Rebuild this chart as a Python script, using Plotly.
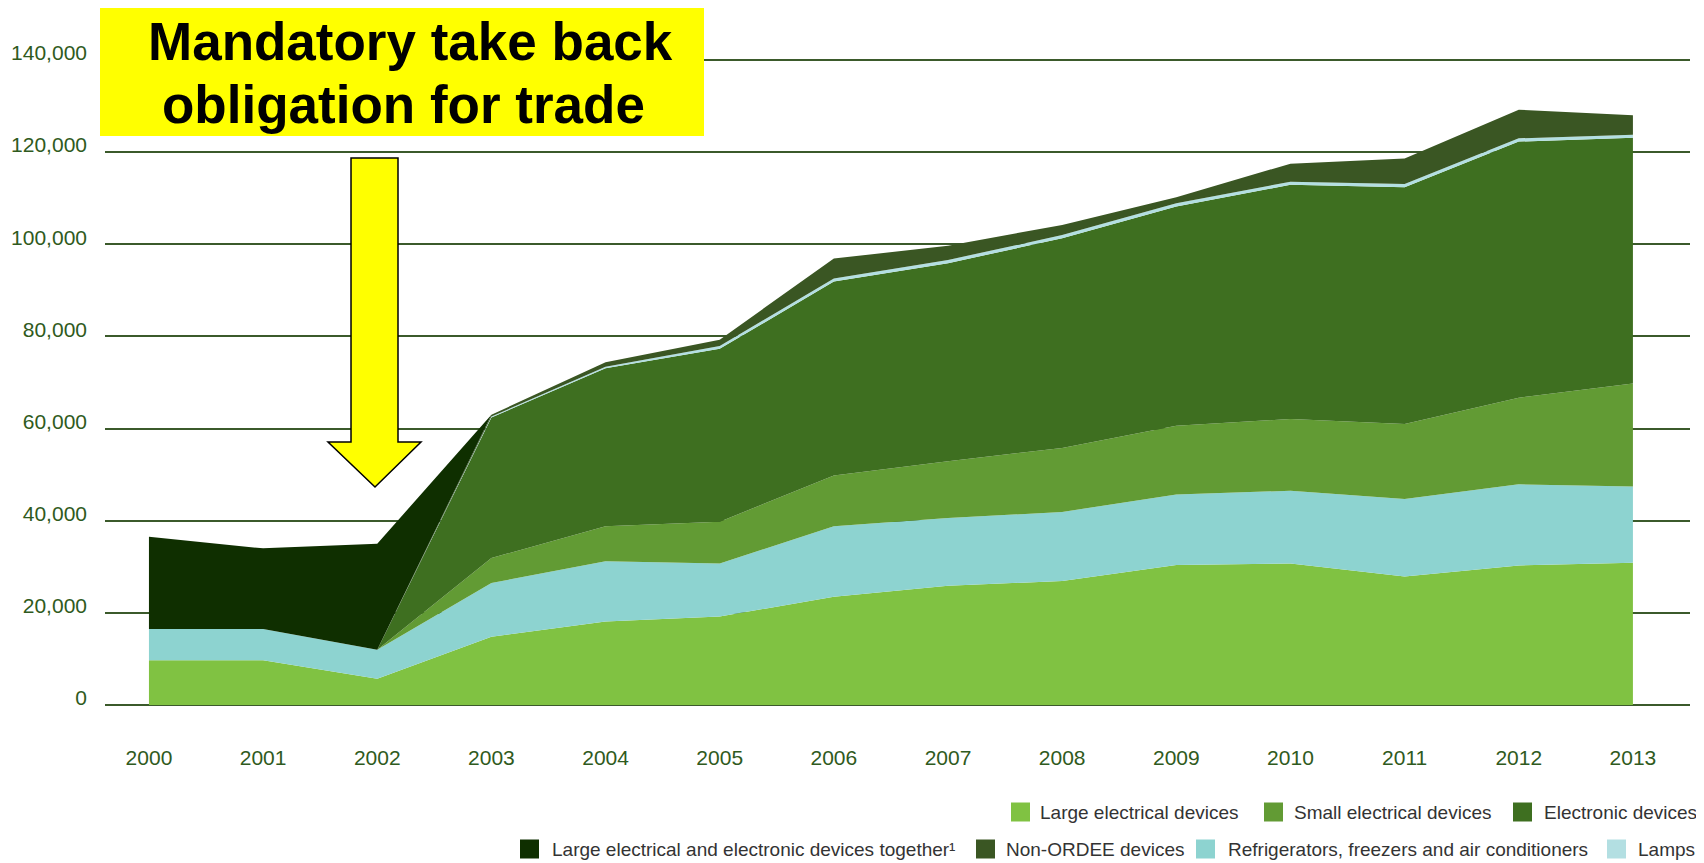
import plotly.graph_objects as go

# ---------------- data ----------------
years = [2000, 2001, 2002, 2003, 2004, 2005, 2006, 2007, 2008, 2009, 2010, 2011, 2012, 2013]
year_labels = [str(y) for y in years]

large_electrical = [9700, 9700, 5700, 14800, 18100, 19200, 23500, 25900, 26900, 30400, 30700, 27900, 30300, 30900]
refrigerators = [6800, 6800, 6300, 11700, 13100, 11500, 15300, 14700, 15000, 15300, 15800, 16800, 17600, 16500]
small_electrical = [0, 0, 0, 5400, 7600, 9100, 11000, 12300, 13900, 14900, 15600, 16300, 18800, 22400]
electronic = [0, 0, 0, 30500, 34300, 37500, 42100, 43000, 45500, 47600, 50800, 51400, 55600, 53300]
lamps = [0, 0, 0, 200, 300, 600, 700, 700, 700, 700, 700, 700, 700, 700]
non_ordee = [0, 0, 0, 400, 1000, 1400, 4300, 3100, 2200, 1300, 3900, 5500, 6200, 4200]
together = [20000, 17500, 23000, 0, 0, 0, 0, 0, 0, 0, 0, 0, 0, 0]

y_ticks = [0, 20000, 40000, 60000, 80000, 100000, 120000, 140000]

names = {
    "large": "Large electrical devices",
    "small": "Small electrical devices",
    "electronic": "Electronic devices",
    "together": "Large electrical and electronic devices together¹",
    "nonordee": "Non-ORDEE devices",
    "fridge": "Refrigerators, freezers and air conditioners",
    "lamps": "Lamps",
}
colors = {
    "large": "#80c242",
    "fridge": "#8dd3d0",
    "small": "#629b34",
    "electronic": "#3e6f20",
    "lamps": "#b3dfe2",
    "nonordee": "#3a5623",
    "together": "#0f2f00",
}

# stacking order bottom -> top
stack = [
    ("large", large_electrical),
    ("fridge", refrigerators),
    ("small", small_electrical),
    ("electronic", electronic),
    ("lamps", lamps),
    ("nonordee", non_ordee),
    ("together", together),
]

# ---------------- layout geometry ----------------
OFF = 8                      # default page body margin
W, H = 1704 - OFF, 863 - OFF
L, R, T, B = 97, 14, 50, 158
PW, PH = W - L - R, H - T - B
Y_TOP = 140000 * PH / 645.0  # so that 140,000 sits 645 px above the baseline


def fx(x):
    """page pixel x -> paper"""
    return (x - OFF - L) / PW


def fy(y):
    """page pixel y -> paper"""
    return (T + PH - (y - OFF)) / PH


fig = go.Figure()
for key, vals in stack:
    fig.add_trace(go.Scatter(
        x=years, y=vals, name=names[key], stackgroup="one", mode="lines",
        line=dict(width=0, color=colors[key]), fillcolor=colors[key],
        showlegend=False,
    ))

GRID = "#3b5a2b"
TICKC = "#2f5a20"
FONT = "Liberation Sans, Arial, sans-serif"

fig.update_xaxes(
    range=[1999.615, 2013.5], tickmode="array", tickvals=years, ticktext=year_labels,
    showgrid=False, zeroline=False, showline=False, ticks="", automargin=False,
    tickfont=dict(family=FONT, size=21, color=TICKC), ticklabelstandoff=38,
    fixedrange=True,
)
fig.update_yaxes(
    range=[0, Y_TOP], tickmode="array", tickvals=y_ticks, tickformat=",d",
    showgrid=True, gridcolor=GRID, gridwidth=1.5, automargin=False,
    zeroline=True, zerolinecolor=GRID, zerolinewidth=1.5, showline=False, ticks="",
    tickfont=dict(family=FONT, size=21, color=TICKC), ticklabelstandoff=17,
    ticklabelshift=-7, fixedrange=True,
)

shapes = []
annotations = []

# yellow call-out box
shapes.append(dict(type="rect", xref="paper", yref="paper",
                   x0=fx(100), x1=fx(704), y0=fy(136), y1=fy(5),
                   fillcolor="#ffff00", line=dict(width=0), layer="above"))
annotations.append(dict(text="<b>Mandatory take back</b>", xref="paper", yref="paper",
                        x=fx(410), y=fy(41), xanchor="center", yanchor="middle", showarrow=False,
                        font=dict(family="Liberation Sans, Arial, sans-serif", size=53, color="black")))
annotations.append(dict(text="<b>obligation for trade</b>", xref="paper", yref="paper",
                        x=fx(403), y=fy(104), xanchor="center", yanchor="middle", showarrow=False,
                        font=dict(family="Liberation Sans, Arial, sans-serif", size=53, color="black")))

# block arrow
pts = [(351, 158), (398, 158), (398, 442), (421, 442), (375, 487), (328, 442), (351, 442)]
path = "M " + " L ".join(f"{fx(a):.5f},{fy(b):.5f}" for a, b in pts) + " Z"
shapes.append(dict(type="path", xref="paper", yref="paper", path=path,
                   fillcolor="#ffff00", line=dict(color="black", width=1.5), layer="above"))

# manual legend
legend_rows = [
    (812, [("large", 1011, 1038), ("small", 1264, 1292), ("electronic", 1513, 1542)]),
    (849, [("together", 520, 550), ("nonordee", 976, 1004), ("fridge", 1196, 1226), ("lamps", 1607, 1636)]),
]
SQ = 19
for yc, items in legend_rows:
    for key, sx, tx in items:
        shapes.append(dict(type="rect", xref="paper", yref="paper",
                           x0=fx(sx), x1=fx(sx + SQ), y0=fy(yc + SQ / 2), y1=fy(yc - SQ / 2),
                           fillcolor=colors[key], line=dict(width=0)))
        annotations.append(dict(text=names[key], xref="paper", yref="paper",
                                x=fx(tx), y=fy(yc), xanchor="left", yanchor="middle",
                                showarrow=False,
                                font=dict(family=FONT, size=19, color="#333333")))

fig.update_layout(
    width=W, height=H, autosize=False,
    margin=dict(l=L, r=R, t=T, b=B, pad=0, autoexpand=False),
    paper_bgcolor="white", plot_bgcolor="white",
    showlegend=False, shapes=shapes, annotations=annotations,
    hovermode=False,
)

fig.write_html("out.html", config={"displayModeBar": False})
